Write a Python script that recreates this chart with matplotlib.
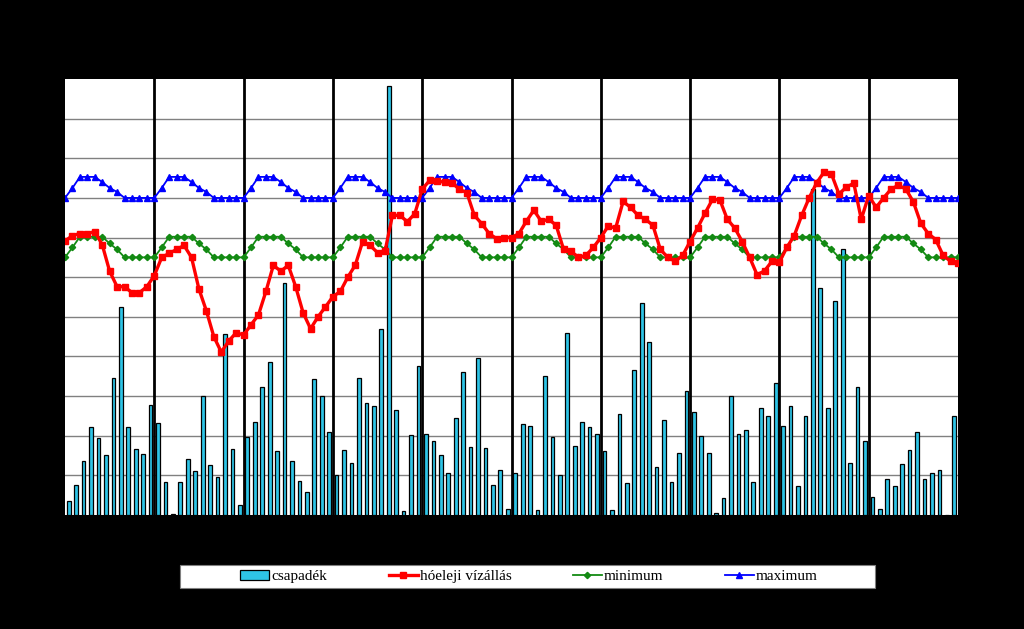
"""
Monthly precipitation and start-of-month water level, 10 hydrological years,
with the long-term monthly minimum / maximum reference levels.
"""

import numpy as np
import matplotlib.pyplot as plt
from matplotlib.patches import Rectangle

# ----------------------------------------------------------------------
# Data (same units as the gridlines: 10/line)
# ----------------------------------------------------------------------

LABEL_BAR = "csapadék"
LABEL_LEVEL = "hóeleji vízállás"
LABEL_MIN = "minimum"
LABEL_MAX = "maximum"

# monthly precipitation, 120 months
csapadek = [
    3.6, 7.6, 13.6, 22.3, 19.4, 15.2, 34.6, 52.4, 22.3, 16.7, 15.4, 27.8,
    23.3, 8.4, 0.3, 8.4, 14.1, 11.0, 30.1, 12.7, 9.7, 45.7, 16.7, 2.5,
    19.6, 23.4, 32.3, 38.6, 16.1, 58.5, 13.7, 8.7, 5.7, 34.3, 30.1, 21.0,
    10.1, 16.4, 13.0, 34.5, 28.2, 27.5, 46.9, 108.2, 26.5, 1.0, 20.2, 37.5,
    20.5, 18.7, 15.2, 10.5, 24.5, 36.1, 17.1, 39.7, 16.8, 7.6, 11.4, 1.5,
    10.5, 23.0, 22.5, 1.3, 35.1, 19.6, 10.1, 45.9, 17.3, 23.4, 22.1, 20.4,
    16.1, 1.3, 25.5, 8.1, 36.6, 53.5, 43.6, 12.2, 24.0, 8.2, 15.6, 31.3,
    25.9, 20.0, 15.6, 0.5, 4.3, 30.0, 20.4, 21.4, 8.4, 27.0, 25.0, 33.3,
    22.4, 27.4, 7.2, 25.0, 82.3, 57.3, 26.9, 53.9, 67.2, 13.0, 32.3, 18.7,
    4.6, 1.4, 9.1, 7.4, 12.9, 16.3, 20.9, 9.1, 10.5, 11.4, 0.0, 25.0,
]

# start-of-month water level, 121 points (month boundaries)
vizallas = [
    69.1, 70.5, 71.0, 71.0, 71.5, 68.2, 61.5, 57.6, 57.6, 56.1, 56.1, 57.6,
    60.4, 65.0, 66.0, 67.0, 68.0, 65.0, 57.0, 51.5, 45.0, 41.1, 43.9, 46.0,
    45.4, 48.0, 50.5, 56.4, 63.0, 61.5, 63.0, 57.6, 51.0, 47.0, 50.0, 52.5,
    55.1, 56.4, 60.0, 63.0, 69.0, 68.0, 66.2, 66.5, 75.6, 75.6, 74.0, 76.0,
    82.2, 84.4, 84.2, 84.0, 83.8, 82.2, 81.3, 75.6, 73.5, 71.0, 69.7, 70.0,
    70.0, 71.0, 74.1, 76.9, 74.1, 74.6, 73.1, 67.0, 66.5, 65.0, 65.5, 67.5,
    70.0, 72.9, 72.4, 79.1, 77.6, 75.6, 74.6, 73.1, 67.0, 65.0, 64.0, 65.5,
    69.0, 72.4, 76.1, 79.6, 79.5, 74.6, 72.4, 69.0, 65.0, 60.6, 61.6, 64.0,
    63.8, 67.5, 70.5, 75.6, 80.0, 83.8, 86.5, 86.0, 81.0, 82.7, 83.7, 74.6,
    80.6, 77.6, 80.0, 82.2, 83.2, 82.2, 79.0, 73.6, 71.0, 69.5, 65.5, 64.0,
    63.6,
]

minimum = [
    65.0, 67.5, 70.2, 70.2, 70.2, 70.2, 68.5, 67.0, 65.0, 65.0, 65.0, 65.0,
    65.0, 67.5, 70.2, 70.2, 70.2, 70.2, 68.5, 67.0, 65.0, 65.0, 65.0, 65.0,
    65.0, 67.5, 70.2, 70.2, 70.2, 70.2, 68.5, 67.0, 65.0, 65.0, 65.0, 65.0,
    65.0, 67.5, 70.2, 70.2, 70.2, 70.2, 68.5, 67.0, 65.0, 65.0, 65.0, 65.0,
    65.0, 67.5, 70.2, 70.2, 70.2, 70.2, 68.5, 67.0, 65.0, 65.0, 65.0, 65.0,
    65.0, 67.5, 70.2, 70.2, 70.2, 70.2, 68.5, 67.0, 65.0, 65.0, 65.0, 65.0,
    65.0, 67.5, 70.2, 70.2, 70.2, 70.2, 68.5, 67.0, 65.0, 65.0, 65.0, 65.0,
    65.0, 67.5, 70.2, 70.2, 70.2, 70.2, 68.5, 67.0, 65.0, 65.0, 65.0, 65.0,
    65.0, 67.5, 70.2, 70.2, 70.2, 70.2, 68.5, 67.0, 65.0, 65.0, 65.0, 65.0,
    65.0, 67.5, 70.2, 70.2, 70.2, 70.2, 68.5, 67.0, 65.0, 65.0, 65.0, 65.0,
    65.0,
]

maximum = [
    80.0, 82.5, 85.3, 85.3, 85.3, 84.0, 82.5, 81.5, 80.0, 80.0, 80.0, 80.0,
    80.0, 82.5, 85.3, 85.3, 85.3, 84.0, 82.5, 81.5, 80.0, 80.0, 80.0, 80.0,
    80.0, 82.5, 85.3, 85.3, 85.3, 84.0, 82.5, 81.5, 80.0, 80.0, 80.0, 80.0,
    80.0, 82.5, 85.3, 85.3, 85.3, 84.0, 82.5, 81.5, 80.0, 80.0, 80.0, 80.0,
    80.0, 82.5, 85.3, 85.3, 85.3, 84.0, 82.5, 81.5, 80.0, 80.0, 80.0, 80.0,
    80.0, 82.5, 85.3, 85.3, 85.3, 84.0, 82.5, 81.5, 80.0, 80.0, 80.0, 80.0,
    80.0, 82.5, 85.3, 85.3, 85.3, 84.0, 82.5, 81.5, 80.0, 80.0, 80.0, 80.0,
    80.0, 82.5, 85.3, 85.3, 85.3, 84.0, 82.5, 81.5, 80.0, 80.0, 80.0, 80.0,
    80.0, 82.5, 85.3, 85.3, 85.3, 84.0, 82.5, 81.5, 80.0, 80.0, 80.0, 80.0,
    80.0, 82.5, 85.3, 85.3, 85.3, 84.0, 82.5, 81.5, 80.0, 80.0, 80.0, 80.0,
    80.0,
]

N_YEARS = 10
MONTHS = 12


def main():
    plt.rcParams["font.family"] = ["Liberation Serif", "DejaVu Serif"]

    fig = plt.figure(figsize=(10.24, 6.29), dpi=100, facecolor="black")
    ax = fig.add_axes([65 / 1024, 1 - 515 / 629, 893 / 1024, 436 / 629])
    ax.set_facecolor("white")

    n_months = len(csapadek)
    x_bar = np.arange(n_months) + 0.5
    x_line = np.arange(len(vizallas))

    # gridlines: grey horizontal, black year separators
    for y in range(10, 110, 10):
        ax.axhline(y, color="#808080", linewidth=1.0, zorder=0.5)
    for k in range(1, N_YEARS):
        ax.axvline(k * MONTHS, color="black", linewidth=2.0, zorder=0.6)

    bars = ax.bar(x_bar, csapadek, width=0.5, color="#2EC4E6",
                  edgecolor="black", linewidth=0.9, zorder=2)
    l_level, = ax.plot(x_line, vizallas, "-s", color="#FF0000", linewidth=2.4,
                       markersize=4.8, zorder=4)
    l_min, = ax.plot(x_line, minimum, "-D", color="#138A13", linewidth=1.3,
                     markersize=3.2, zorder=3)
    l_max, = ax.plot(x_line, maximum, "-^", color="#0000FF", linewidth=1.3,
                     markersize=5, zorder=3)

    ax.set_xlim(0, n_months)
    ax.set_ylim(0, 110)
    ax.set_xticks([])
    ax.set_yticks([])
    for s in ax.spines.values():
        s.set_visible(False)

    # legend box (white, wider than its content, as in the original)
    fig.patches.append(Rectangle((180 / 1024, 1 - 588 / 629), 695 / 1024,
                                 23 / 629, transform=fig.transFigure,
                                 facecolor="white", edgecolor="#808080",
                                 linewidth=0.8, zorder=1))
    fig.legend([bars, l_level, l_min, l_max],
               [LABEL_BAR, LABEL_LEVEL, LABEL_MIN, LABEL_MAX],
               loc="center", ncol=4,
               bbox_to_anchor=(529 / 1024, 1 - 576.5 / 629),
               frameon=False, fontsize=11, columnspacing=4.0,
               handlelength=1.9, handletextpad=0.15, borderpad=0.2)

    fig.savefig("out.png", dpi=100, facecolor="black")


if __name__ == "__main__":
    main()
